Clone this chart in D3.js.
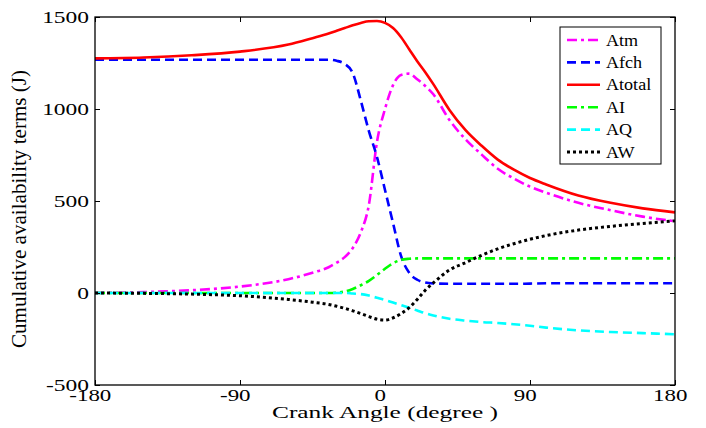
<!DOCTYPE html>
<html><head><meta charset="utf-8">
<script src="https://cdn.jsdelivr.net/npm/d3@7/dist/d3.min.js"></script>
<style>
html,body{margin:0;padding:0;background:#fff;}
svg{display:block;}
</style></head>
<body>
<svg id="c" width="706" height="428"></svg>
<script>
// ---- data ----
const angles = [-180,-150,-120,-90,-60,-45,-35,-30,-25,-20,-15,-10,-5,0,5,10,15,20,25,30,40,50,60,70,80,90,100,120,140,160,180];
const Atm    = [0,5,15,35,75,110,140,165,195,245,330,480,820,1000,1130,1185,1192,1162,1125,1080,940,835,752,675,622,578,545,490,450,415,390];
const Afch   = [1268,1268,1268,1268,1268,1268,1268,1262,1245,1195,1045,880,740,560,380,200,110,72,57,52,50,50,50,50,50,51,53,53,53,53,53];
const Atotal = [1275,1280,1292,1312,1350,1385,1410,1425,1440,1455,1468,1477,1478,1468,1440,1390,1325,1260,1200,1135,995,885,800,725,670,625,590,530,490,460,438];
const AI     = [0,0,0,0,0,0,0,2,8,22,42,66,98,132,162,180,186,188,188,188,188,188,188,188,188,188,188,188,188,188,188];
const AQ     = [0,0,0,0,0,0,0,0,0,-3,-6,-14,-26,-38,-52,-66,-80,-95,-110,-122,-140,-150,-158,-163,-170,-178,-188,-203,-212,-218,-224];
const AW     = [0,-2,-6,-15,-35,-50,-62,-72,-83,-97,-112,-128,-142,-147,-135,-112,-80,-35,15,55,125,165,205,240,268,292,312,342,362,378,392];
const seriesNames = ["Atm","Afch","Atotal","AI","AQ","AW"];
const xTicks = [-180,-90,0,90,180];
const yTicks = [-500,0,500,1000,1500];
const xLabel = "Crank Angle (degree )";
const yLabel = "Cumulative availability terms (J)";

const FONT = '"Liberation Serif", "Times New Roman", serif';
const seriesData = {Atm, Afch, Atotal, AI, AQ, AW};
const styles = {
  Atm:    {color:"#ff00ff", dash:"10,4,3,4", w:2.6},
  Afch:   {color:"#0000ff", dash:"9,5",      w:2.6},
  Atotal: {color:"#ff0000", dash:null,       w:2.6},
  AI:     {color:"#00ff00", dash:"10,4,3,4", w:2.6},
  AQ:     {color:"#00ffff", dash:"9,5",      w:2.6},
  AW:     {color:"#000000", dash:"3,3",      w:3}
};

const svg = d3.select("#c");
const L = 95, R = 675, T = 17, B = 385;
const x = d3.scaleLinear().domain([-180,180]).range([L,R]);
const y = d3.scaleLinear().domain([-500,1500]).range([B,T]);
const SX = 1.38;
const fmt = d => String(d);

svg.append("rect").attr("x",L).attr("y",T).attr("width",R-L).attr("height",B-T).attr("fill","#fff");

// lines
const line = d3.line().x((d,i)=>x(angles[i])).y(d=>y(d)).curve(d3.curveMonotoneX);
const plot = svg.append("g");
seriesNames.forEach(n=>{
  const s = styles[n];
  plot.append("path").datum(seriesData[n])
    .attr("d",line).attr("fill","none")
    .attr("stroke",s.color).attr("stroke-width",s.w)
    .attr("stroke-dasharray",s.dash)
    .attr("stroke-linejoin","round");
});

// axes
const gB = svg.append("g").attr("transform",`translate(0,${B})`)
  .call(d3.axisBottom(x).tickValues(xTicks).tickSizeInner(-5).tickSizeOuter(0).tickFormat(fmt));
const gL = svg.append("g").attr("transform",`translate(${L},0)`)
  .call(d3.axisLeft(y).tickValues(yTicks).tickSizeInner(-5).tickSizeOuter(0).tickFormat(fmt));
const gT = svg.append("g").attr("transform",`translate(0,${T})`)
  .call(d3.axisTop(x).tickValues(xTicks).tickSizeInner(-5).tickSizeOuter(0).tickFormat(""));
const gR = svg.append("g").attr("transform",`translate(${R},0)`)
  .call(d3.axisRight(y).tickValues(yTicks).tickSizeInner(-5).tickSizeOuter(0).tickFormat(""));
[gB,gL,gT,gR].forEach(g=>{
  g.attr("font-family",null);
  g.select(".domain").remove();
  g.selectAll(".tick line").attr("stroke","#000").attr("stroke-width",1);
});
gL.selectAll(".tick text")
  .style("font-family",FONT).style("font-size","17px").attr("fill","#000")
  .attr("x",-6/SX).attr("dy","0.34em")
  .attr("transform",`scale(${SX},1)`);
gB.selectAll(".tick text")
  .style("font-family",FONT).style("font-size","16px").attr("fill","#000")
  .attr("y",0).attr("dy","0").attr("x",-5/SX)
  .attr("transform",`translate(0,16) scale(${SX*1.04},1.02)`);

// frame
svg.append("rect").attr("x",L).attr("y",T).attr("width",R-L).attr("height",B-T)
  .attr("fill","none").attr("stroke","#000").attr("stroke-width",1.3);

// axis labels
svg.append("text").attr("x",385).attr("y",418)
  .attr("text-anchor","middle")
  .style("font-family",FONT).style("font-size","16px")
  .attr("textLength",226).attr("lengthAdjust","spacingAndGlyphs")
  .text(xLabel);
svg.append("text").attr("transform","translate(26,209) rotate(-90)")
  .attr("text-anchor","middle")
  .style("font-family",FONT).style("font-size","20px")
  .attr("textLength",278).attr("lengthAdjust","spacingAndGlyphs")
  .text(yLabel);

// legend
const lg = svg.append("g");
lg.append("rect").attr("x",560).attr("y",27).attr("width",101).attr("height",137)
  .attr("fill","#fff").attr("stroke","#000").attr("stroke-width",1);
seriesNames.forEach((n,i)=>{
  const s = styles[n];
  const yy = 40 + i*22.4;
  lg.append("line").attr("x1",567).attr("x2",600).attr("y1",yy).attr("y2",yy)
    .attr("stroke",s.color).attr("stroke-width",s.w).attr("stroke-dasharray",s.dash);
  lg.append("text").attr("transform",`translate(606,${yy+5.5}) scale(1.13,1)`)
    .style("font-family",FONT).style("font-size","16px").text(n);
});
</script>
</body></html>
